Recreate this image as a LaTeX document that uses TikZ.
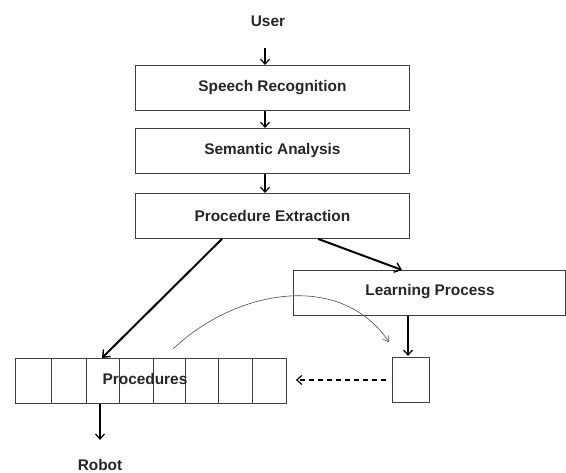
\documentclass[tikz,border=0pt]{standalone}
\usepackage{fontspec}
\setmainfont{Liberation Sans}
\usetikzlibrary{arrows.meta,calc}
\begin{document}
\begin{tikzpicture}[x=1pt,y=-1pt,
  every node/.style={font=\fontsize{15.4}{18}\bfseries\selectfont, text=black!85},
  stage/.style={draw=black!75, line width=0.9pt, minimum width=274pt, minimum height=45pt, inner sep=0pt, anchor=north west},
  thin arrow/.style={draw=black, line width=1.2pt, -{Straight Barb[length=5pt,width=9pt,line width=1.2pt]}},
  thick arrow/.style={draw=black, line width=2pt, -{Straight Barb[length=6pt,width=10pt,line width=1.4pt]}},
  lbl/.style={inner sep=0pt}
]
\useasboundingbox (0,0) rectangle (566,473);
\node[lbl] (user) at (268,21) {User};
\node[stage] (sr) at (135,65) {Speech Recognition};
\node[stage] (sa) at (135,128) {Semantic Analysis};
\node[stage] (pe) at (135,193) {Procedure Extraction};
\node[draw=black!75, line width=0.9pt, minimum width=272pt, minimum height=45pt, inner sep=0pt, anchor=north west] (lp) at (293,270) {};
\node[lbl] (lptext) at (430,292) {Learning Process};
\node[draw=black!75, line width=0.9pt, minimum width=271pt, minimum height=45pt, inner sep=0pt, anchor=north west] (proc) at (15,358) {};
\foreach \xx in {51,86,119,153,185,218,252}
  \draw[black!75, line width=0.9pt] (\xx,358) -- (\xx,403);
\node[lbl] (proctext) at (145,379) {Procedures};
\node[draw=black!75, line width=0.9pt, minimum width=37pt, minimum height=45pt, inner sep=0pt, anchor=north west] (sb) at (392,357) {};
\node[lbl] (robot) at (100,465) {Robot};

\coordinate (ua) at (265,48);
\draw[thin arrow] (ua) -- (ua |- sr.north);
\draw[thin arrow] (sr.south -| ua) -- (sa.north -| ua);
\draw[thin arrow] (sa.south -| ua) -- (pe.north -| ua);
\draw[thick arrow] ([xshift=87pt]pe.south west) -- ([xshift=87pt]proc.north west);
\draw[thick arrow] ([xshift=183pt]pe.south west) -- ([xshift=109pt]lp.north west);
\draw[thin arrow] ([xshift=115pt]lp.south west) -- ([xshift=115pt,yshift=1pt]lp.south west |- sb.north);
\draw[thin arrow] (proc.south -| robot) -- ([yshift=-36pt]proc.south -| robot);
\draw[black, line width=1.3pt, dash pattern=on 5pt off 4pt, -{Straight Barb[length=5pt,width=9pt,line width=1.2pt]}, shorten <=6pt, shorten >=9pt] (sb.west) -- (sb.west -| proc.east);
\coordinate (cs) at ([xshift=158pt,yshift=9pt]proc.north west);
\coordinate (ce) at ([xshift=-3pt,yshift=15pt]sb.north west);
\draw[black!70, line width=0.6pt, -{Straight Barb[length=5pt,width=7pt,line width=0.6pt]}] (cs) .. controls (235,290) and (340,270) .. (ce);
\end{tikzpicture}
\end{document}
